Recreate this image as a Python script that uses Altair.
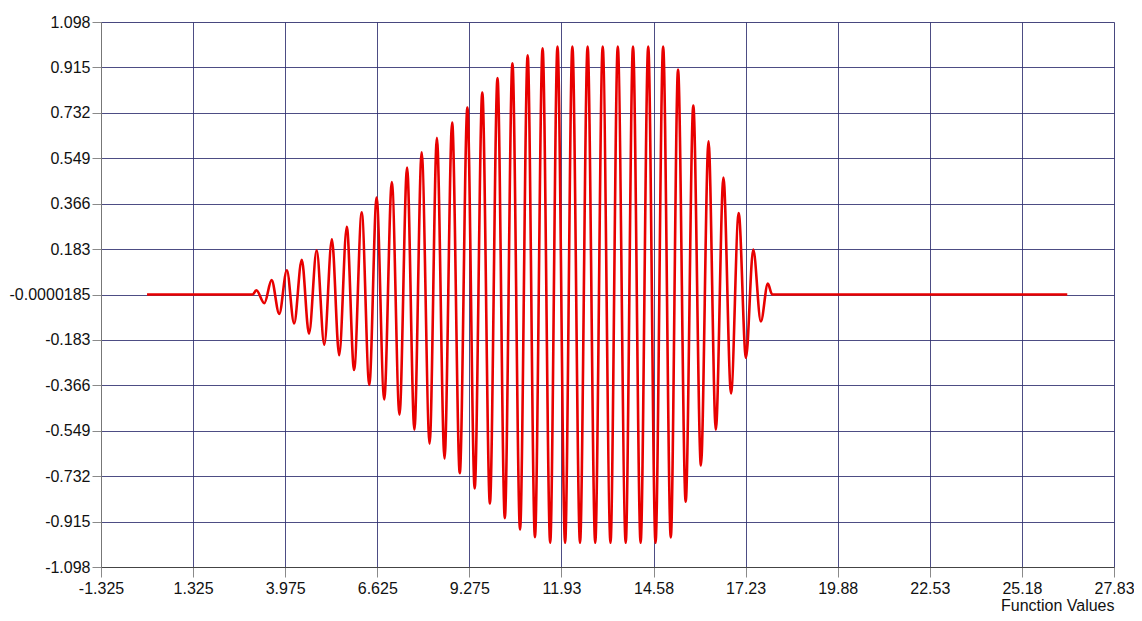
import altair as alt
import pandas as pd
import json

# Extrema of the red trace (x, y)
x_vals = [0.0, 3.04,
          3.146, 3.375, 3.584, 3.804, 4.023, 4.232, 4.452, 4.661, 4.881, 5.100,
          5.319, 5.529, 5.748, 5.958, 6.177, 6.396, 6.606, 6.825, 7.044, 7.264,
          7.483, 7.693, 7.902,
          8.131, 8.341, 8.560, 8.779, 8.999, 9.218, 9.428, 9.647, 9.866, 10.085,
          10.295, 10.514, 10.733, 10.953, 11.162, 11.382, 11.601, 11.811, 12.030,
          12.239, 12.459, 12.678, 12.897, 13.112,
          13.336, 13.546, 13.774, 13.984, 14.203, 14.422, 14.632, 14.851, 15.071,
          15.280, 15.500, 15.719, 15.938, 16.157, 16.367, 16.586, 16.805, 17.025,
          17.234, 17.444, 17.663, 17.864, 17.987, 26.48]
y_vals = [0.0, 0.0,
          0.017, -0.035, 0.058, -0.078, 0.098, -0.117, 0.140, -0.158, 0.178, -0.202,
          0.222, -0.245, 0.273, -0.304, 0.331, -0.364, 0.391, -0.423, 0.453, -0.484,
          0.512, -0.545, 0.573,
          -0.601, 0.631, -0.661, 0.693, -0.720, 0.753, -0.781, 0.814, -0.842, 0.872,
          -0.901, 0.932, -0.947, 0.964, -0.978, 0.992, -1.000, 0.999, -1.000,
          0.999, -1.000, 0.999, -1.000, 0.999,
          -1.000, 0.999, -1.000, 0.999, -1.000, 0.999, -1.000, 0.999, -0.979,
          0.906, -0.835, 0.761, -0.689, 0.617, -0.545, 0.471, -0.399, 0.328,
          -0.255, 0.181, -0.109, 0.044, 0.0, 0.0]

x_ticks = [-1.325, 1.325, 3.975, 6.625, 9.275, 11.925, 14.575, 17.225,
           19.875, 22.525, 25.175, 27.825]
x_labels = ["-1.325", "1.325", "3.975", "6.625", "9.275", "11.93", "14.58",
            "17.23", "19.88", "22.53", "25.18", "27.83"]
y_ticks = [1.098, 0.915, 0.732, 0.549, 0.366, 0.183, 0.0, -0.183, -0.366,
           -0.549, -0.732, -0.915, -1.098]
y_labels = ["1.098", "0.915", "0.732", "0.549", "0.366", "0.183", "-0.0000185",
            "-0.183", "-0.366", "-0.549", "-0.732", "-0.915", "-1.098"]

df = pd.DataFrame({"x": x_vals, "y": y_vals})


def lookup_expr(vals, labels):
    return "%s[indexof(%s, datum.value)]" % (json.dumps(labels), json.dumps(vals))


FONT = "Liberation Sans"
GRID = "#2e2e6e"

W, H = 1013, 545

chart = alt.Chart(df).mark_line(
    color="#e80000", strokeWidth=2.6, interpolate="monotone"
).encode(
    x=alt.X("x:Q",
            scale=alt.Scale(domain=[-1.325, 27.825], nice=False, zero=False),
            axis=alt.Axis(values=x_ticks, labelExpr=lookup_expr(x_ticks, x_labels),
                          title="Function Values", titleAnchor="end", titleAlign="right",
                          titleX=W, titleY=43, titleBaseline="alphabetic",
                          titleFont=FONT, titleFontSize=16, titleFontWeight="normal",
                          titleColor="#111",
                          labelFont=FONT, labelFontSize=16, labelColor="#111",
                          labelPadding=3, tickSize=10, tickColor="#8a8a8a",
                          domainColor="#444", gridColor=GRID, gridOpacity=0.85,
                          labelFlush=False, labelOverlap=False)),
    y=alt.Y("y:Q",
            scale=alt.Scale(domain=[-1.098, 1.098], nice=False, zero=False),
            axis=alt.Axis(values=y_ticks, labelExpr=lookup_expr(y_ticks, y_labels),
                          title=None,
                          labelFont=FONT, labelFontSize=16, labelColor="#111",
                          labelPadding=2, tickSize=9, tickColor="#8a8a8a",
                          domainColor="#777", gridColor=GRID, gridOpacity=0.85,
                          labelFlush=False, labelOverlap=False)),
).properties(
    width=W, height=H,
    autosize=alt.AutoSizeParams(type="none"),
    padding={"left": 93, "top": 14, "right": 20, "bottom": 45},
).configure_view(
    stroke="#2a2a5a", strokeWidth=1
).configure(background="white")

chart.save("out.html", embed_options={"renderer": "svg", "actions": False})
